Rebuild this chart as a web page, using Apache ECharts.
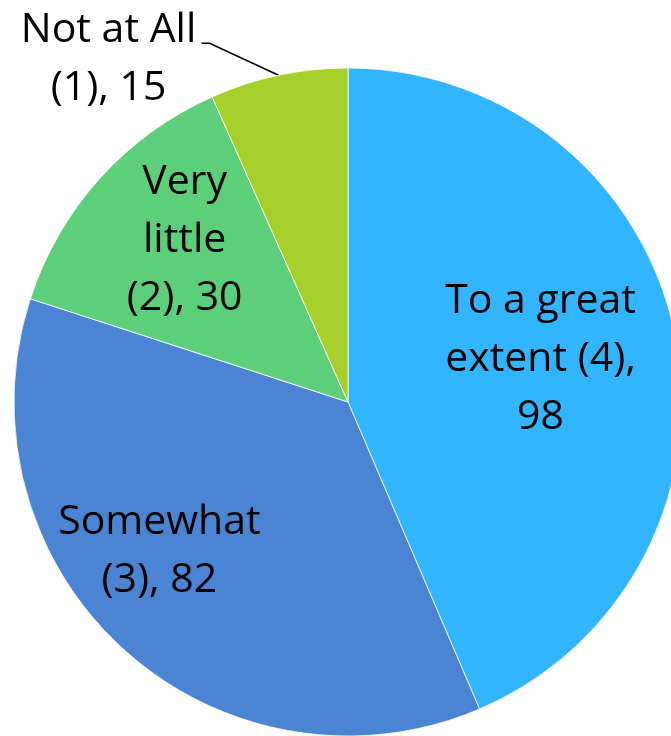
<!DOCTYPE html>
<html><head><meta charset="utf-8">
<script src="https://cdn.jsdelivr.net/npm/echarts@6/dist/echarts.min.js"></script>
<style>html,body{margin:0;padding:0;background:#fff}#c{width:671px;height:736px}</style>
</head><body><div id="c"></div>
<script>
const categories = ['To a great extent (4)', 'Somewhat (3)', 'Very little (2)', 'Not at All (1)'];
const values = [98, 82, 30, 15];
const labelTexts = ['To a great\nextent (4),\n98', 'Somewhat\n(3), 82', 'Very\nlittle\n(2), 30', 'Not at All\n(1), 15'];
const colors = ['#32B4FE', '#4A84D3', '#5DCF7A', '#A6CF29'];
const insideShift = [[26, -8], [-74, 24], [-37, -48]];

const chart = echarts.init(document.getElementById('c'), null, {renderer: 'canvas'});
chart.setOption({
  animation: false,
  series: [{
    type: 'pie',
    center: [348, 402],
    radius: 334,
    startAngle: 90,
    clockwise: true,
    avoidLabelOverlap: false,
    itemStyle: {borderColor: '#ffffff', borderWidth: 0.8},
    label: {
      fontFamily: 'Open Sans',
      fontSize: 41,
      lineHeight: 58,
      color: '#000',
      align: 'center',
      formatter: p => labelTexts[p.dataIndex]
    },
    labelLine: {lineStyle: {color: '#000', width: 1.5}, length: 30, length2: 8},
    labelLayout: function (p) {
      const i = p.dataIndex;
      if (i < 3) return {dx: insideShift[i][0], dy: insideShift[i][1]};
      const pts = p.labelLinePoints;
      const e = pts[0];
      const p1 = [e[0] - 69, e[1] - 32];
      const p2 = [p1[0] - 8, p1[1]];
      return {
        x: p2[0] - 93, y: p2[1] + 16, align: 'center', verticalAlign: 'middle',
        labelLinePoints: [e, p1, p2]
      };
    },
    data: categories.map((c, i) => ({
      name: c, value: values[i],
      itemStyle: {color: colors[i]},
      label: {position: i < 3 ? 'inside' : 'outside'},
      labelLine: {show: i === 3}
    }))
  }]
});
</script></body></html>
